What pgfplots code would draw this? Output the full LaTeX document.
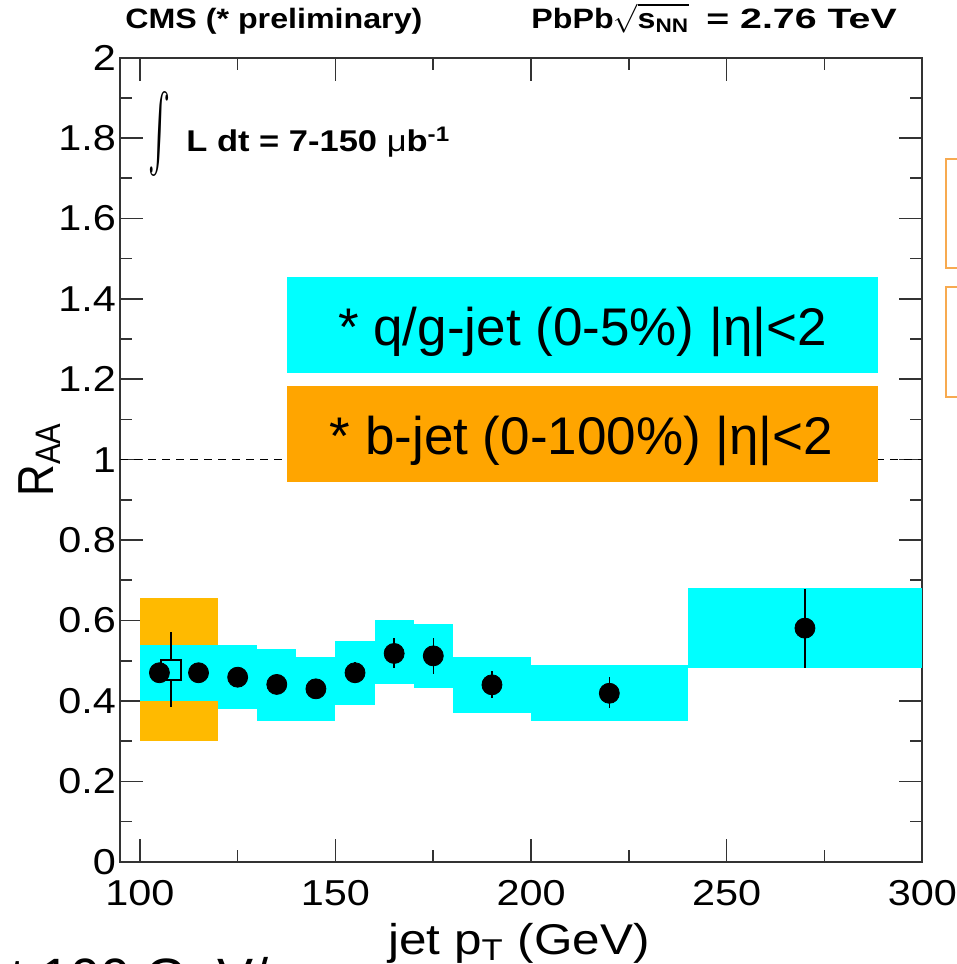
\documentclass[border=0pt]{standalone}
\usepackage{fontspec}
\setmainfont{Liberation Sans}[FakeStretch=1.15]
\newfontfamily\slidefont{Liberation Sans}
\usepackage{graphicx}
\usepackage{pgfplots}
\pgfplotsset{compat=1.18}
\definecolor{sysc}{HTML}{00FFFF}
\definecolor{syso}{HTML}{FFBA00}
\definecolor{lego}{HTML}{FFA500}
\definecolor{edgeo}{RGB}{247,170,80}
\definecolor{framec}{HTML}{333333}

\pgfplotstableread{
x    y      ep     em
105  0.470  0.015  0.015
115  0.470  0.015  0.015
125  0.459  0.015  0.015
135  0.441  0.015  0.015
145  0.430  0.015  0.015
155  0.470  0.027  0.025
165  0.518  0.039  0.035
175  0.512  0.044  0.046
190  0.440  0.035  0.034
220  0.419  0.040  0.037
270  0.581  0.097  0.098
}\qgjet

\newcommand\sysbox[5]{\addplot[fill=#5, draw=none, mark=none, forget plot] coordinates {(#1,#3) (#2,#3) (#2,#4) (#1,#4)} -- cycle;}

\begin{document}
\begin{tikzpicture}
\path[use as bounding box] (0,0) rectangle (478.5pt,482pt);
\begin{axis}[
  at={(60.15pt,51.15pt)}, anchor=south west,
  scale only axis, width=401pt, height=402pt,
  xmin=95, xmax=300, ymin=0, ymax=2,
  xtick={100,150,200,250,300},
  minor xtick={125,175,225,275},
  ytick={0,0.2,0.4,0.6,0.8,1,1.2,1.4,1.6,1.8,2},
  minor ytick={0.1,0.3,0.5,0.7,0.9,1.1,1.3,1.5,1.7,1.9},
  xtick pos=both, ytick pos=both,
  tick align=inside,
  major tick length=11.5pt, minor tick length=6pt,
  every tick/.style={line width=0.8pt, framec},
  axis line style={line width=1pt, framec},
  /pgf/number format/assume math mode=true,
  tick label style={font=\fontsize{18}{18}\selectfont},
  xticklabel style={inner sep=0pt, yshift=-9pt},
  yticklabel style={inner sep=0pt, xshift=-2pt},
  xlabel={jet p\textsubscript{T} (GeV)},
  xlabel style={at={(axis description cs:0.497,0)}, anchor=base, yshift=-46.15pt, inner sep=0pt, font=\fontsize{21.5}{21.5}\selectfont},
  ylabel={\scalebox{1}[1.15]{\slidefont\fontsize{22}{22}\selectfont R\textsubscript{AA}}},
  ylabel style={at={(axis description cs:-0.0839,0.5)}, anchor=base, inner sep=0pt},
]
% b-jet systematic
\sysbox{100}{120}{0.301}{0.656}{syso}
% q/g-jet systematics
\sysbox{100}{110}{0.400}{0.539}{sysc}
\sysbox{110}{120}{0.400}{0.539}{sysc}
\sysbox{120}{130}{0.381}{0.539}{sysc}
\sysbox{130}{140}{0.351}{0.529}{sysc}
\sysbox{140}{150}{0.351}{0.510}{sysc}
\sysbox{150}{160}{0.390}{0.550}{sysc}
\sysbox{160}{170}{0.442}{0.600}{sysc}
\sysbox{170}{180}{0.431}{0.591}{sysc}
\sysbox{180}{200}{0.371}{0.510}{sysc}
\sysbox{200}{240}{0.351}{0.489}{sysc}
\sysbox{240}{300}{0.481}{0.680}{sysc}
% unity line
\addplot[black, line width=0.5pt, dash pattern=on 4pt off 3pt, mark=none] coordinates {(95,1) (300,1)};
% b-jet point (open square) with stat error
\addplot[black, line width=0.7pt, mark=none] coordinates {(108,0.385) (108,0.453)};
\addplot[black, line width=0.7pt, mark=none] coordinates {(108,0.501) (108,0.572)};
\addplot[only marks, mark=square, mark size=5pt, mark options={line width=0.7pt, black}] coordinates {(108,0.477)};
% q/g-jet points
\addplot[only marks, mark=*, mark size=5pt, black,
  error bars/.cd, y dir=both, y explicit, error mark=none,
  error bar style={line width=0.7pt, black}]
  table[x=x, y=y, y error plus=ep, y error minus=em] {\qgjet};
\end{axis}

% titles
\node[anchor=base west, inner sep=0pt] at (62.5pt,467.9pt) {\bfseries\fontsize{14}{14}\selectfont CMS (* preliminary)};
\node[anchor=base west, inner sep=0pt] at (265.5pt,467.9pt) {\bfseries\fontsize{14}{14}\selectfont PbPb$\sqrt{\vphantom{\rule{0pt}{10.5pt}}\hbox{\bfseries s\textsubscript{NN}}}$};
\node[anchor=base west, inner sep=0pt] at (353pt,467.9pt) {\scalebox{1.22}[1]{\bfseries\fontsize{14}{14}\selectfont = 2.76 TeV}};

% luminosity
\node[anchor=south west, inner sep=0pt] at (74pt,393.65pt) {\resizebox*{11pt}{42.5pt}{$\int$}};
\node[anchor=base west, inner sep=0pt] at (93pt,406.15pt) {\fontsize{15}{15}\selectfont\textbf{L dt = 7-150 }μ\textbf{b\textsuperscript{-1}}};

% legend boxes
\fill[sysc] (143.3pt,295.5pt) rectangle (439pt,343.65pt);
\node[anchor=base, inner sep=0pt] at (291.25pt,309pt) {\slidefont\fontsize{26.5}{26.5}\selectfont * q/g-jet (0-5\%) |η|<2};
\fill[lego] (143.3pt,241pt) rectangle (439pt,289pt);
\node[anchor=base, inner sep=0pt] at (290.75pt,254.5pt) {\slidefont\fontsize{26.5}{26.5}\selectfont * b-jet (0-100\%) |η|<2};

% slide fragments at the edges
\begin{scope}
\clip (0,0) rectangle (478.5pt,482pt);
\draw[edgeo, line width=1pt] (473pt,347.85pt) rectangle (495pt,402.35pt);
\draw[edgeo, line width=1pt] (473pt,283.65pt) rectangle (495pt,338.65pt);
\node[anchor=base west, inner sep=0pt] at (5pt,-16.3pt) {\slidefont\fontsize{27}{27}\selectfont t 100 GeV/c};
\end{scope}
\end{tikzpicture}
\end{document}
